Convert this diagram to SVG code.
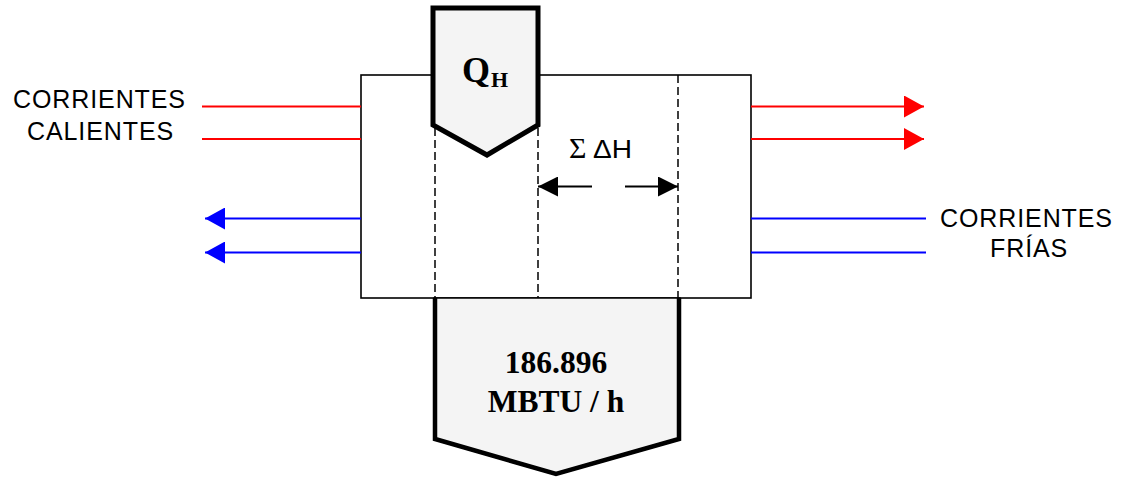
<svg xmlns="http://www.w3.org/2000/svg" width="1128" height="477" viewBox="0 0 1128 477">
<defs>
<style>
.lbl{font-family:"Liberation Sans",Arial,sans-serif;font-size:25px;fill:#000;letter-spacing:0.9px}
.big{font-family:"Liberation Serif","Times New Roman",serif;font-weight:bold;fill:#000}
.dash{stroke:#000;stroke-width:1.5;stroke-dasharray:8 4;fill:none}
.hot{stroke:#ff0000;stroke-width:2;fill:none}
.cold{stroke:#0000ff;stroke-width:2;fill:none}
.blk{stroke:#000;stroke-width:2;fill:none}
</style>
<marker id="hr" markerUnits="userSpaceOnUse" markerWidth="20" markerHeight="22" refX="20" refY="11" orient="auto" viewBox="0 0 20 22"><path d="M0,0 L20,11 L0,22 z" fill="#ff0000"/></marker>
<marker id="hb" markerUnits="userSpaceOnUse" markerWidth="20" markerHeight="22" refX="20" refY="11" orient="auto" viewBox="0 0 20 22"><path d="M0,0 L20,11 L0,22 z" fill="#0000ff"/></marker>
<marker id="hk" markerUnits="userSpaceOnUse" markerWidth="20" markerHeight="20" refX="20" refY="10" orient="auto" viewBox="0 0 20 20"><path d="M0,0 L20,10 L0,20 z" fill="#000"/></marker>
</defs>
<rect width="1128" height="477" fill="#fff"/>

<g id="exchanger">
<rect x="361" y="75" width="390" height="223" fill="none" stroke="#000" stroke-width="1.6"/>
</g>

<g id="dividers">
<line class="dash" x1="435" y1="128" x2="435" y2="298"/>
<line class="dash" x1="538" y1="128" x2="538" y2="298"/>
<line class="dash" x1="678" y1="75" x2="678" y2="298"/>
</g>

<g id="connectors">
<line class="hot" x1="202" y1="106.5" x2="361" y2="106.5"/>
<line class="hot" x1="202" y1="139" x2="361" y2="139"/>
<line class="hot" x1="751" y1="106.5" x2="924" y2="106.5" marker-end="url(#hr)"/>
<line class="hot" x1="751" y1="139" x2="924" y2="139" marker-end="url(#hr)"/>
<line class="cold" x1="361" y1="218.5" x2="205" y2="218.5" marker-end="url(#hb)"/>
<line class="cold" x1="361" y1="252.5" x2="205" y2="252.5" marker-end="url(#hb)"/>
<line class="cold" x1="751" y1="218.5" x2="926" y2="218.5"/>
<line class="cold" x1="751" y1="252.5" x2="926" y2="252.5"/>
<line class="blk" x1="592" y1="186.5" x2="538" y2="186.5" marker-end="url(#hk)"/>
<line class="blk" x1="625" y1="186.5" x2="678" y2="186.5" marker-end="url(#hk)"/>
</g>

<g id="qh">
<polygon points="433,8 538,8 538,125 487,155 433,125" fill="#f4f4f4" stroke="#000" stroke-width="5" stroke-linejoin="miter"/>
<text class="big" x="462" y="82" font-size="36">Q</text>
<text class="big" x="491" y="87" font-size="22">H</text>
</g>

<g id="qc">
<polygon points="434,298 680,298 680,439 556,474 434,439" fill="#f4f4f4" stroke="#000" stroke-width="1.5"/>
<path d="M435,298 L435,439 L556,474 L679,439 L679,298" fill="none" stroke="#000" stroke-width="4.5" stroke-linejoin="miter"/>
<path d="M435,439 L556,474 L679,439" fill="none" stroke="#000" stroke-width="3"/>
<text class="big" x="556" y="373" font-size="31.5" text-anchor="middle">186.896</text>
<text class="big" x="556" y="412" font-size="31.5" text-anchor="middle">MBTU / h</text>
</g>

<g id="sumdh">
<text x="569" y="158" font-family="Liberation Serif,serif" font-size="30" fill="#000">Σ</text>
<text x="593" y="158" font-family="Liberation Sans,Arial,sans-serif" font-size="25" fill="#000" textLength="39" lengthAdjust="spacingAndGlyphs">ΔH</text>
</g>

<g id="hot-label">
<text class="lbl" x="13" y="108">CORRIENTES</text>
<text class="lbl" x="27" y="140">CALIENTES</text>
</g>

<g id="cold-label">
<text class="lbl" x="940" y="227">CORRIENTES</text>
<text class="lbl" x="990" y="257">FRÍAS</text>
</g>
</svg>
